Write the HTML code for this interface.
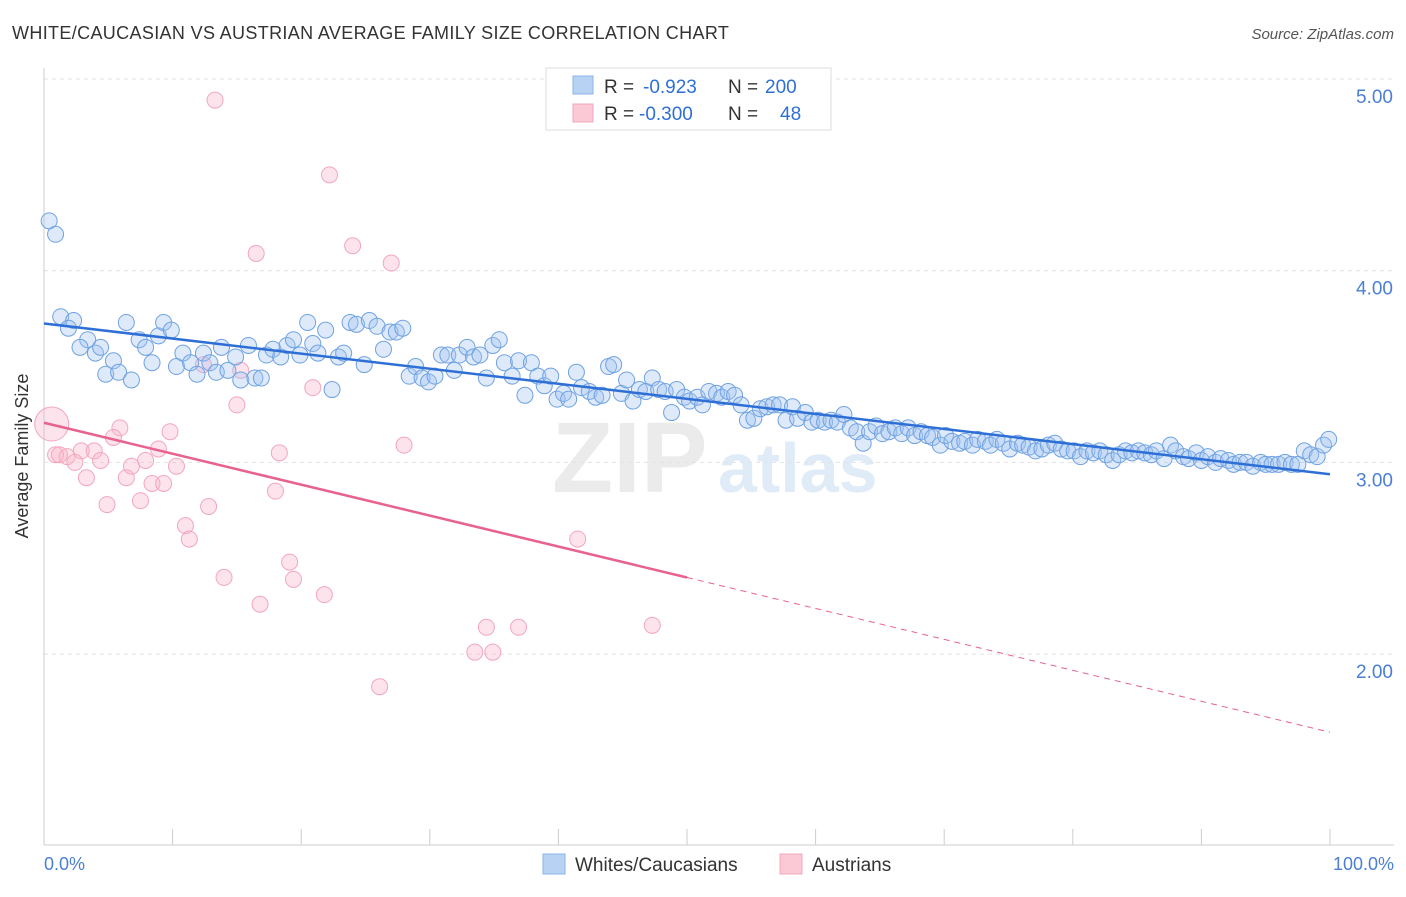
<!DOCTYPE html>
<html><head><meta charset="utf-8"><style>
body{margin:0;background:#fff;font-family:"Liberation Sans",sans-serif;}
svg text{font-family:"Liberation Sans",sans-serif;}
</style></head><body>
<svg width="1406" height="892" viewBox="0 0 1406 892">
<text x="12" y="39" font-size="18" fill="#333" letter-spacing="0.35">WHITE/CAUCASIAN VS AUSTRIAN AVERAGE FAMILY SIZE CORRELATION CHART</text>
<text x="1394" y="39" font-size="15" fill="#555" font-style="italic" text-anchor="end">Source: ZipAtlas.com</text>
<g>
<text x="552" y="492" font-size="100" font-family="Liberation Serif" font-weight="bold" fill="#ebebeb">ZIP</text>
<text x="718" y="492" font-size="70" font-weight="bold" fill="#e0ebf8">atlas</text>
</g>
<g id="grid"></g>
<line x1="44" y1="68" x2="44" y2="845" stroke="#ccc"/>
<line x1="44" y1="845" x2="1394" y2="845" stroke="#ccc"/>
<g id="xticks"></g>
<text x="28" y="456" font-size="18" fill="#333" transform="rotate(-90 28 456)" text-anchor="middle">Average Family Size</text>
<text x="44" y="870" font-size="18" fill="#4a7fd4">0.0%</text>
<text x="1394" y="870" font-size="18" fill="#4a7fd4" text-anchor="end">100.0%</text>
<g id="pink"></g><g id="blue"></g><g id="lines"></g>
<g>
<rect x="546" y="68" width="285" height="62" fill="#fff" stroke="#ddd"/>
<rect x="573" y="76" width="20" height="18" fill="#b8d2f4" stroke="#8ab4e8"/>
<text x="604" y="93" font-size="19" fill="#333">R =</text>
<text x="643" y="93" font-size="19" fill="#2e6fd6">-0.923</text>
<text x="728" y="93" font-size="19" fill="#333">N =</text>
<text x="765" y="93" font-size="19" fill="#2e6fd6">200</text>
<rect x="573" y="104" width="20" height="18" fill="#fbc8d6" stroke="#f0a8bc"/>
<text x="604" y="120" font-size="19" fill="#333">R =</text>
<text x="639" y="120" font-size="19" fill="#2e6fd6">-0.300</text>
<text x="728" y="120" font-size="19" fill="#333">N =</text>
<text x="780" y="120" font-size="19" fill="#2e6fd6">48</text>
</g>
<g>
<rect x="543" y="854" width="22" height="20" fill="#b8d2f4" stroke="#8ab4e8"/>
<text x="575" y="871" font-size="19" fill="#333">Whites/Caucasians</text>
<rect x="780" y="854" width="22" height="20" fill="#fbc8d6" stroke="#f0a8bc"/>
<text x="812" y="871" font-size="19" fill="#333">Austrians</text>
</g>
</svg>
<script>
const yTicks=[5,4,3,2];
const yTickLabels=["5.00","4.00","3.00","2.00"];
const xTicks=[0,10,20,30,40,50,60,70,80,90,100];
const blueX=[0.4,0.9,1.3,2.3,1.9,3.4,2.8,4.0,4.4,5.4,4.8,5.8,6.8,6.4,7.4,7.9,8.4,8.9,9.3,9.9,10.3,10.8,11.4,11.9,12.4,12.9,13.4,13.8,14.3,14.9,15.3,15.9,16.4,16.9,17.3,17.8,18.4,18.9,19.4,19.9,20.5,20.9,21.3,21.9,22.4,22.9,23.3,23.8,24.3,24.9,25.3,25.9,26.4,26.9,27.4,27.9,28.4,28.9,29.4,29.9,30.4,30.9,31.4,31.9,32.3,32.9,33.4,33.9,34.4,34.9,35.4,35.8,36.4,36.9,37.4,37.9,38.4,38.9,39.4,39.9,40.4,40.8,41.4,41.8,42.4,42.9,43.4,43.9,44.3,44.9,45.3,45.8,46.3,46.8,47.3,47.8,48.3,48.8,49.2,49.8,50.2,50.8,51.2,51.7,52.3,52.7,53.2,53.7,54.2,54.7,55.2,55.7,56.2,56.7,57.2,57.7,58.2,58.6,59.2,59.7,60.2,60.7,61.2,61.7,62.2,62.7,63.2,63.7,64.2,64.7,65.2,65.7,66.2,66.7,67.2,67.7,68.2,68.7,69.1,69.7,70.1,70.6,71.2,71.6,72.2,72.6,73.2,73.6,74.1,74.6,75.1,75.7,76.1,76.6,77.1,77.6,78.1,78.6,79.1,79.6,80.1,80.6,81.1,81.6,82.1,82.6,83.1,83.6,84.1,84.6,85.1,85.6,86.1,86.5,87.1,87.6,88.0,88.6,89.0,89.6,90.0,90.5,91.1,91.5,92.1,92.5,93.0,93.5,94.0,94.6,95.0,95.5,96.0,96.5,97.0,97.5,98.0,98.5,99.0,99.5,99.9];
const blueY=[4.26,4.19,3.76,3.74,3.70,3.64,3.60,3.57,3.60,3.53,3.46,3.47,3.43,3.73,3.64,3.60,3.52,3.66,3.73,3.69,3.50,3.57,3.52,3.46,3.57,3.52,3.47,3.60,3.48,3.55,3.43,3.61,3.44,3.44,3.56,3.59,3.55,3.61,3.64,3.56,3.73,3.62,3.57,3.69,3.38,3.55,3.57,3.73,3.72,3.51,3.74,3.71,3.59,3.68,3.68,3.70,3.45,3.50,3.44,3.42,3.45,3.56,3.56,3.48,3.56,3.60,3.55,3.56,3.44,3.61,3.64,3.52,3.45,3.53,3.35,3.52,3.45,3.40,3.45,3.33,3.36,3.33,3.47,3.39,3.37,3.34,3.35,3.50,3.51,3.36,3.43,3.32,3.38,3.37,3.44,3.38,3.37,3.26,3.38,3.34,3.32,3.34,3.30,3.37,3.36,3.34,3.37,3.35,3.30,3.22,3.23,3.28,3.29,3.30,3.30,3.22,3.29,3.23,3.26,3.21,3.22,3.21,3.22,3.21,3.25,3.18,3.16,3.10,3.16,3.19,3.15,3.16,3.18,3.15,3.18,3.14,3.16,3.14,3.13,3.09,3.14,3.11,3.10,3.11,3.09,3.12,3.11,3.09,3.12,3.10,3.07,3.10,3.09,3.08,3.06,3.07,3.09,3.10,3.07,3.06,3.06,3.03,3.06,3.05,3.06,3.04,3.01,3.04,3.06,3.05,3.06,3.05,3.04,3.06,3.02,3.09,3.06,3.03,3.02,3.05,3.01,3.03,3.00,3.02,3.01,2.99,3.00,3.00,2.98,3.00,2.99,2.99,2.99,3.00,2.99,2.99,3.06,3.04,3.03,3.09,3.12];
const pinkX=[13.3,22.2,24.0,16.5,27.0,0.6,20.9,15.0,28.0,5.9,9.8,5.4,2.9,3.9,8.9,18.3,0.9,1.8,2.4,4.4,7.9,6.8,10.3,3.3,6.4,8.4,9.3,4.9,7.5,12.8,18.0,11.0,11.3,41.5,14.0,19.1,19.4,16.8,21.8,34.4,36.9,47.3,33.5,34.9,26.1,15.3,12.4,1.2];
const pinkY=[4.89,4.50,4.13,4.09,4.04,3.20,3.39,3.30,3.09,3.18,3.16,3.13,3.06,3.06,3.07,3.05,3.04,3.03,3.00,3.01,3.01,2.98,2.98,2.92,2.92,2.89,2.89,2.78,2.80,2.77,2.85,2.67,2.60,2.60,2.40,2.48,2.39,2.26,2.31,2.14,2.14,2.15,2.01,2.01,1.83,3.48,3.51,3.04];
const ns="http://www.w3.org/2000/svg";
const X=v=>44+v*12.86, Y=v=>79+(5-v)*191.7;
function mk(t,a,p){const e=document.createElementNS(ns,t);for(const k in a)e.setAttribute(k,a[k]);p.appendChild(e);return e;}
const grid=document.getElementById('grid');
yTicks.forEach((t,i)=>{
 const l=mk('line',{x1:44,x2:1394,y1:Y(t),y2:Y(t),stroke:'#e2e2e2','stroke-dasharray':'4,4'},grid);
 
 
 const tx=mk('text',{x:1393,y:Y(t)+24,'font-size':19,fill:'#4a7fd4','text-anchor':'end'},grid);
 tx.textContent=yTickLabels[i];
 
 
});
const xt=document.getElementById('xticks');
xTicks.forEach(t=>{
 const l=mk('line',{x1:X(t),x2:X(t),y1:829,y2:845,stroke:'#ccc'},xt);
 
 
});
const pg=document.getElementById('pink');
pinkX.forEach((x,i)=>{
 const c=mk('circle',{cx:X(x),cy:Y(pinkY[i]),r:(i===5?17:8),fill:'rgba(248,178,200,0.35)',stroke:'#f2a6bd','stroke-width':1},pg);
 
 
});
const bg=document.getElementById('blue');
blueX.forEach((x,i)=>{
 const c=mk('circle',{cx:X(x),cy:Y(blueY[i]),r:8,fill:'rgba(160,196,240,0.35)',stroke:'#6fa2e2','stroke-width':1},bg);
 
 
});
function fit(xs,ys){const n=xs.length;let sx=0,sy=0,sxx=0,sxy=0;for(let i=0;i<n;i++){sx+=xs[i];sy+=ys[i];sxx+=xs[i]*xs[i];sxy+=xs[i]*ys[i];}const b=(n*sxy-sx*sy)/(n*sxx-sx*sx);return [ (sy-b*sx)/n ,b];}
const lg=document.getElementById('lines');
const [ba,bb]=fit(blueX,blueY);
const bl=mk('line',{x1:X(0),y1:Y(ba),x2:X(100),y2:Y(ba+bb*100),stroke:'#2e6fd6','stroke-width':2.5},lg);


const [pa,pb]=fit(pinkX,pinkY);
const pl=mk('line',{x1:X(0),y1:Y(pa),x2:X(50),y2:Y(pa+pb*50),stroke:'#e8628e','stroke-width':2.5},lg);


const pd=mk('line',{x1:X(50),y1:Y(pa+pb*50),x2:X(100),y2:Y(pa+pb*100),stroke:'#e8628e','stroke-width':1,'stroke-dasharray':'6,5'},lg);


</script>
</body></html>
